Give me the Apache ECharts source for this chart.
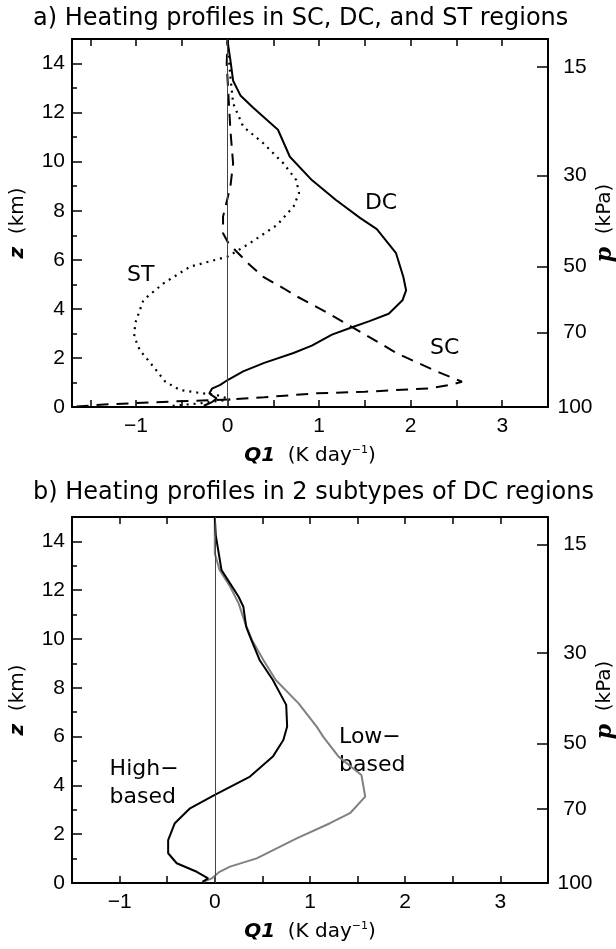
<!DOCTYPE html>
<html><head><meta charset="utf-8">
<script src="https://cdn.jsdelivr.net/npm/echarts@6/dist/echarts.min.js"></script>
<style>html,body{margin:0;padding:0;background:#fff}#c{width:616px;height:949px}</style>
</head><body><div id="c"></div>
<script>
// ---- Data ----
const titleA = 'a) Heating profiles in SC, DC, and ST regions';
const titleB = 'b) Heating profiles in 2 subtypes of DC regions';
const zLabelTicks = [0, 2, 4, 6, 8, 10, 12, 14];
const pLabels = [100, 70, 50, 30, 15];          // kPa
const pHeights = [0, 3.03, 5.72, 9.43, 13.87];   // km where each pressure label sits
const qLabelsA = [-1, 0, 1, 2, 3];
const qTicksA = [-1.5, -1, -0.5, 0, 0.5, 1, 1.5, 2, 2.5, 3, 3.5];
const qLabelsB = [-1, 0, 1, 2, 3];
const qTicksB = [-1, -0.5, 0, 0.5, 1, 1.5, 2, 2.5, 3];

// Panel a: DC (solid)
const dcZ = [0.05, 0.2, 0.35, 0.55, 0.75, 0.9, 1.1, 1.45, 1.8, 2.2, 2.5, 2.95, 3.25, 3.5, 3.8, 4.35, 4.75, 5.3, 6.27, 7.25, 7.7, 8.45, 9.25, 10.2, 11.3, 12.2, 12.7, 13.3, 14.15, 14.9, 15];
const dcQ = [-0.26, -0.17, -0.12, -0.2, -0.17, -0.08, 0.0, 0.17, 0.4, 0.72, 0.92, 1.14, 1.36, 1.55, 1.76, 1.91, 1.95, 1.92, 1.84, 1.63, 1.45, 1.18, 0.92, 0.68, 0.55, 0.28, 0.14, 0.06, 0.03, 0.0, 0.0];
// Panel a: ST (dotted)
const stZ = [0.05, 0.15, 0.31, 0.49, 0.56, 0.69, 1.03, 1.64, 2.32, 2.87, 3.41, 4.36, 5.04, 5.72, 6.13, 6.67, 7.42, 8.17, 8.71, 9.25, 9.93, 10.75, 11.43, 12.38, 13.47, 14.8, 15];
const stQ = [-0.6, -0.3, 0.03, -0.12, -0.28, -0.52, -0.68, -0.81, -0.96, -1.02, -1.01, -0.92, -0.70, -0.41, 0.0, 0.24, 0.54, 0.72, 0.78, 0.75, 0.61, 0.39, 0.17, 0.06, 0.03, 0.0, 0.0];
// Panel a: SC (dashed)
const scZ = [0.02, 0.1, 0.22, 0.31, 0.4, 0.56, 0.62, 0.76, 0.9, 1.03, 1.44, 2.19, 3.0, 3.82, 4.5, 4.84, 5.3, 5.8, 6.33, 6.67, 7.08, 7.76, 8.98, 9.93, 11.3, 14.0, 15];
const scQ = [-1.65, -1.35, -0.63, 0.03, 0.4, 0.97, 1.5, 2.2, 2.43, 2.56, 2.29, 1.85, 1.48, 1.1, 0.76, 0.61, 0.39, 0.24, 0.1, 0.01, -0.05, -0.05, 0.03, 0.06, 0.03, -0.01, 0.0];

// Panel b: High-based (black)
const hiZ = [0.05, 0.12, 0.19, 0.46, 0.81, 1.22, 1.76, 2.45, 3.06, 3.61, 4.36, 5.18, 5.86, 6.41, 7.3, 8.32, 9.14, 10.1, 10.5, 11.32, 11.73, 12.28, 12.83, 13.78, 14.26, 15];
const hiQ = [-0.13, -0.12, -0.07, -0.19, -0.40, -0.49, -0.49, -0.42, -0.26, 0.0, 0.37, 0.61, 0.72, 0.76, 0.75, 0.61, 0.47, 0.37, 0.33, 0.3, 0.25, 0.16, 0.07, 0.03, 0.01, 0.0];
// Panel b: Low-based (grey)
const loZ = [0.05, 0.19, 0.46, 0.67, 1.01, 1.83, 2.45, 2.86, 3.54, 4.43, 5.18, 5.99, 6.41, 7.36, 8.32, 9.14, 9.96, 10.64, 11.46, 12.15, 12.83, 13.51, 14.6, 15];
const loQ = [-0.12, -0.03, 0.05, 0.16, 0.44, 0.86, 1.21, 1.42, 1.58, 1.54, 1.30, 1.14, 1.07, 0.88, 0.64, 0.51, 0.39, 0.32, 0.25, 0.16, 0.05, 0.0, 0.0, 0.0];

// Text annotations: [text, Q1, z]
const labelsA = [['DC', 1.5, 8.3], ['ST', -1.1, 5.38], ['SC', 2.21, 2.4]];
const labelsB = [['High\u2212\nbased', -1.105, 4.1], ['Low\u2212\nbased', 1.305, 5.39]];

// ---- Chart ----
const FONT = 'DejaVu Sans';
const NUMFONT = 'Liberation Sans';
const pair = (q, z) => q.map((v, i) => [v, z[i]]);
const chart = echarts.init(document.getElementById('c'), null, {renderer: 'canvas'});

function xBottom(gi, min, ticks, labels) {
  return {
    type: 'value', gridIndex: gi, position: 'bottom', min: min, max: 3.5,
    axisLine: {show: true, onZero: false, lineStyle: {color: '#000', width: 2}},
    axisTick: {show: true, inside: true, length: 7, customValues: ticks, lineStyle: {color: '#000', width: 1.5}},
    axisLabel: {show: true, customValues: labels, margin: 9, color: '#000', fontSize: 21, fontFamily: NUMFONT,
      formatter: v => (v < 0 ? '\u2212' + Math.abs(v) : String(v))},
    splitLine: {show: false},
    name: '{b|Q1}  (K day{s|\u22121})', nameLocation: 'middle', nameGap: 38, nameMoveOverlap: false,
    nameTextStyle: {color: '#000', fontSize: 20, fontFamily: FONT,
      rich: {b: {fontWeight: 'bold', fontStyle: 'italic', fontSize: 20, fontFamily: FONT},
             s: {fontSize: 11, fontFamily: FONT, verticalAlign: 'top', padding: [0, 0, 10, 0]}}}
  };
}
function xTop(gi, min, ticks) {
  return {
    type: 'value', gridIndex: gi, position: 'top', min: min, max: 3.5,
    axisLine: {show: true, onZero: false, lineStyle: {color: '#000', width: 2}},
    axisTick: {show: true, inside: true, length: 7, customValues: ticks, lineStyle: {color: '#000', width: 1.5}},
    axisLabel: {show: false}, splitLine: {show: false}
  };
}
function yLeft(gi) {
  return {
    type: 'value', gridIndex: gi, position: 'left', min: 0, max: 15, interval: 2,
    axisLine: {show: true, onZero: false, lineStyle: {color: '#000', width: 2}},
    axisTick: {show: true, inside: true, length: 10, lineStyle: {color: '#000', width: 1.5}},
    minorTick: {show: true, splitNumber: 2, length: 5, lineStyle: {color: '#000', width: 1.5}},
    axisLabel: {show: true, margin: 7, color: '#000', fontSize: 21, fontFamily: NUMFONT,
      formatter: v => (zLabelTicks.indexOf(v) >= 0 ? String(v) : '')},
    splitLine: {show: false}, minorSplitLine: {show: false},
    name: '{z|z}  (km)', nameLocation: 'middle', nameGap: 44, nameRotate: 90, nameMoveOverlap: false,
    nameTextStyle: {color: '#000', fontSize: 20, fontFamily: FONT,
      rich: {z: {fontWeight: 'bold', fontStyle: 'italic', fontSize: 20, fontFamily: FONT}}}
  };
}
function yRight(gi) {
  return {
    type: 'value', gridIndex: gi, position: 'right', min: 0, max: 15,
    axisLine: {show: true, onZero: false, lineStyle: {color: '#000', width: 2}},
    axisTick: {show: true, inside: true, length: 11, customValues: pHeights, lineStyle: {color: '#000', width: 1.5}},
    axisLabel: {show: true, customValues: pHeights, margin: 27, align: 'center', color: '#000', fontSize: 21, fontFamily: NUMFONT,
      formatter: v => { const i = pHeights.findIndex(h => Math.abs(h - v) < 1e-6); return i >= 0 ? String(pLabels[i]) : ''; }},
    splitLine: {show: false},
    name: '{p|p}  (kPa)', nameLocation: 'middle', nameGap: 46, nameRotate: 90, nameMoveOverlap: false,
    nameTextStyle: {color: '#000', fontSize: 20, fontFamily: FONT,
      rich: {p: {fontWeight: 'bold', fontStyle: 'italic', fontSize: 22, fontFamily: 'DejaVu Serif'}}}
  };
}
const zeroLine = {
  silent: true, symbol: ['none', 'none'], label: {show: false},
  lineStyle: {color: '#444', width: 1, type: 'solid'}, data: [{xAxis: 0}], animation: false
};

const option = {
  animation: false,
  backgroundColor: '#fff',
  title: [
    {text: titleA, left: 28, top: 2, textStyle: {fontSize: 24, fontWeight: 'normal', fontFamily: FONT, color: '#000'}},
    {text: titleB, left: 28, top: 476, textStyle: {fontSize: 24, fontWeight: 'normal', fontFamily: FONT, color: '#000'}}
  ],
  grid: [
    {left: 72, top: 39, width: 476, height: 368, outerBoundsMode: 'none', containLabel: false},
    {left: 72, top: 517, width: 476, height: 366, outerBoundsMode: 'none', containLabel: false}
  ],
  xAxis: [xBottom(0, -1.7, qTicksA, qLabelsA), xTop(0, -1.7, qTicksA), xBottom(1, -1.5, qTicksB, qLabelsB), xTop(1, -1.5, qTicksB)],
  yAxis: [yLeft(0), yRight(0), yLeft(1), yRight(1)],
  series: [
    {name: 'SC', type: 'line', xAxisIndex: 0, yAxisIndex: 0, data: pair(scQ, scZ), showSymbol: false, symbol: 'none',
      lineStyle: {color: '#000', width: 2, type: [12, 8]}, markLine: zeroLine, z: 3},
    {name: 'ST', type: 'line', xAxisIndex: 0, yAxisIndex: 0, data: pair(stQ, stZ), showSymbol: false, symbol: 'none',
      lineStyle: {color: '#000', width: 2.2, type: [2, 5]}, z: 3},
    {name: 'DC', type: 'line', xAxisIndex: 0, yAxisIndex: 0, data: pair(dcQ, dcZ), showSymbol: false, symbol: 'none',
      lineStyle: {color: '#000', width: 2}, z: 3},
    {name: 'Low-based', type: 'line', xAxisIndex: 2, yAxisIndex: 2, data: pair(loQ, loZ), showSymbol: false, symbol: 'none',
      lineStyle: {color: '#808080', width: 2}, markLine: zeroLine, z: 3},
    {name: 'High-based', type: 'line', xAxisIndex: 2, yAxisIndex: 2, data: pair(hiQ, hiZ), showSymbol: false, symbol: 'none',
      lineStyle: {color: '#000', width: 2}, z: 4}
  ]
};
chart.setOption(option);

function addLabels(list, gi) {
  return list.map(([t, q, z]) => {
    const p = chart.convertToPixel({gridIndex: gi}, [q, z]);
    return {type: 'text', x: p[0], y: p[1], silent: true,
      style: {text: t, fill: '#000', font: '22px "' + FONT + '"', textAlign: 'left', textVerticalAlign: 'middle', lineHeight: 28}};
  });
}
chart.setOption({graphic: addLabels(labelsA, 0).concat(addLabels(labelsB, 1))});
</script></body></html>
